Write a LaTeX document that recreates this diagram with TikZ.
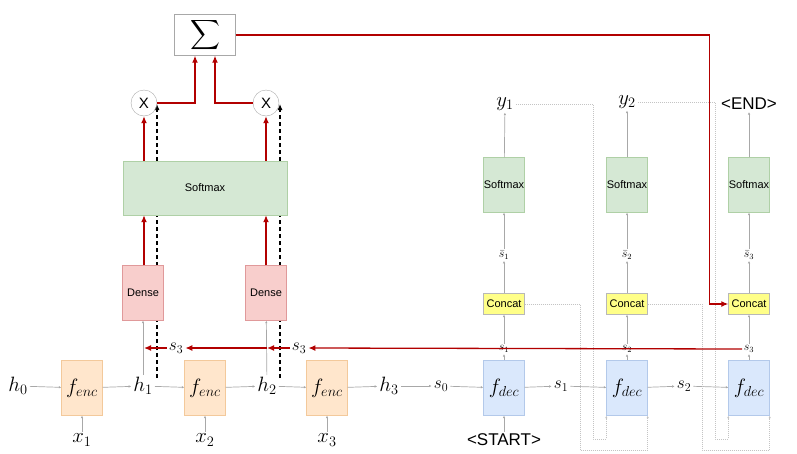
\documentclass[tikz,border=0pt]{standalone}
\usepackage{fontspec}
\setmainfont{Liberation Sans}
\usepackage{amsmath,amssymb}
\usetikzlibrary{calc}
\usetikzlibrary{positioning}
\usetikzlibrary{arrows.meta}

\definecolor{encfill}{HTML}{FFE6CC}
\definecolor{encdraw}{HTML}{F3C99B}
\definecolor{densefill}{HTML}{F8CECC}
\definecolor{densedraw}{HTML}{E0999A}
\definecolor{softfill}{HTML}{D5E8D4}
\definecolor{softdraw}{HTML}{AFD0A6}
\definecolor{decfill}{HTML}{DAE8FC}
\definecolor{decdraw}{HTML}{B3C9EA}
\definecolor{catfill}{HTML}{FFFF88}
\definecolor{catdraw}{HTML}{B8B8B8}
\definecolor{attred}{HTML}{B20000}
\definecolor{linegray}{HTML}{A8A8A8}
\definecolor{dotgray}{HTML}{C4C4C4}

\tikzset{
  box/.style={minimum width=41pt, minimum height=55pt, inner sep=0pt},
  encbox/.style={box, fill=encfill, draw=encdraw, font=\huge},
  decbox/.style={box, fill=decfill, draw=decdraw, font=\huge},
  densebox/.style={box, fill=densefill, draw=densedraw, font=\fontsize{11}{13}\selectfont},
  softbox/.style={box, fill=softfill, draw=softdraw, font=\fontsize{11}{13}\selectfont},
  catbox/.style={minimum width=41pt, minimum height=21pt, inner sep=0pt,
    fill=catfill, draw=catdraw, font=\fontsize{11}{13}\selectfont},
  biglabel/.style={inner sep=2pt, font=\huge},
  slabel/.style={inner sep=2pt, font=\LARGE},
  smalllabel/.style={inner sep=1.5pt, font=\large},
  toklabel/.style={inner sep=2pt, font=\fontsize{17}{20}\selectfont},
  mulnode/.style={circle, draw=linegray, minimum size=26pt, inner sep=0pt,
    font=\fontsize{15}{18}\selectfont},
  thinarrow/.style={draw=linegray, line width=0.7pt,
    -{Latex[length=2.5pt,width=2.5pt]}},
  dotarrow/.style={draw=dotgray, line width=0.6pt, dash pattern=on 1pt off 1pt,
    -{Latex[length=2.5pt,width=2.5pt]}},
  redarrow/.style={draw=attred, line width=1.3pt,
    -{Latex[length=7pt,width=6pt]}},
  dasharrow/.style={draw=black, line width=1.1pt, dash pattern=on 4pt off 3pt,
    -{Latex[length=6pt,width=5pt]}}
}

\begin{document}
\begin{tikzpicture}[x=1pt,y=-1pt]
\useasboundingbox (0,0) rectangle (797,453);

\coordinate (dash1) at (157,378);
\coordinate (dash1end) at (157,104);
\coordinate (dash2) at (280,378);
\coordinate (dash2end) at (280,104);
\draw[dasharrow] (dash1) -- (dash1end);
\draw[dasharrow] (dash2) -- (dash2end);

\node[encbox] (fenc1) at (82,388) {$f_{enc}$};
\node[encbox] (fenc2) at (205,388) {$f_{enc}$};
\node[encbox] (fenc3) at (327,388) {$f_{enc}$};

\node[biglabel] (h0) at (18,386) {$h_0$};
\node[biglabel] (h1) at (143,386) {$h_1$};
\node[biglabel] (h2) at (267,386) {$h_2$};
\node[biglabel] (h3) at (389,386) {$h_3$};
\node[biglabel] (x1) at (82,440) {$x_1$};
\node[biglabel] (x2) at (205,440) {$x_2$};
\node[biglabel] (x3) at (327,440) {$x_3$};

\node[densebox] (dense1) at (143,293) {Dense};
\node[densebox] (dense2) at (266,293) {Dense};
\node[softbox, minimum width=164pt, minimum height=54pt] (softmax) at (205,188) {Softmax};
\node[mulnode] (mul1) at (144,103) {X};
\node[mulnode] (mul2) at (266,103) {X};
\node[draw=linegray, minimum width=61pt, minimum height=41pt, inner sep=0pt,
  font=\huge] (sigma) at (205,35) {$\displaystyle\sum$};

\node[slabel] (s0) at (441,386) {$s_0$};
\node[slabel] (s1) at (561,386) {$s_1$};
\node[slabel] (s2) at (684,386) {$s_2$};
\node[decbox] (fdec1) at (504,388) {$f_{dec}$};
\node[decbox] (fdec2) at (627,388) {$f_{dec}$};
\node[decbox] (fdec3) at (749,388) {$f_{dec}$};
\node[toklabel] (start) at (504,440) {<START>};

\node[smalllabel] (sd1) at (504,349) {$s_1$};
\node[smalllabel] (sd2) at (627,349) {$s_2$};
\node[smalllabel] (sd3) at (749,349) {$s_3$};
\node[catbox] (cat1) at (504,304) {Concat};
\node[catbox] (cat2) at (627,304) {Concat};
\node[catbox] (cat3) at (749,304) {Concat};
\node[smalllabel] (sb1) at (504,255) {$\bar{s}_1$};
\node[smalllabel] (sb2) at (627,255) {$\bar{s}_2$};
\node[smalllabel] (sb3) at (749,255) {$\bar{s}_3$};
\node[softbox] (soft1) at (504,185) {Softmax};
\node[softbox] (soft2) at (627,185) {Softmax};
\node[softbox] (soft3) at (749,185) {Softmax};
\node[biglabel] (y1) at (505,104) {$y_1$};
\node[biglabel] (y2) at (627,102) {$y_2$};
\node[toklabel] (endtok) at (749,104) {<END>};

\draw[thinarrow] (h0) -- (fenc1);
\draw[thinarrow] (fenc1) -- (h1);
\draw[thinarrow] (h1) -- (fenc2);
\draw[thinarrow] (fenc2) -- (h2);
\draw[thinarrow] (h2) -- (fenc3);
\draw[thinarrow] (fenc3) -- (h3);
\draw[thinarrow] (h3) -- (s0);
\draw[thinarrow] (s0) -- (fdec1);
\draw[thinarrow] (fdec1) -- (s1);
\draw[thinarrow] (s1) -- (fdec2);
\draw[thinarrow] (fdec2) -- (s2);
\draw[thinarrow] (s2) -- (fdec3);
\draw[thinarrow] (x1) -- (fenc1);
\draw[thinarrow] (x2) -- (fenc2);
\draw[thinarrow] (x3) -- (fenc3);
\draw[thinarrow] (start) -- (fdec1);
\draw[thinarrow] (h1) -- (dense1);
\draw[thinarrow] (h2) -- (dense2);

\foreach \i in {1,2,3}{
  \draw[thinarrow] (fdec\i) -- (sd\i);
  \draw[thinarrow] (sd\i) -- (cat\i);
  \draw[thinarrow] (cat\i) -- (sb\i);
  \draw[thinarrow] (sb\i) -- (soft\i);
}
\draw[thinarrow] (soft1) -- (y1);
\draw[thinarrow] (soft2) -- (y2);
\draw[thinarrow] (soft3) -- (endtok);

\draw[dotarrow] (y1.east) -| (593,439) -| (fdec2.south west);
\draw[dotarrow] (cat1.east) -| (580,450) -| (fdec2.south east);
\draw[dotarrow] (y2.east) -| (715,439) -| (fdec3.south west);
\draw[dotarrow] (cat2.east) -| (702,450) -| (fdec3.south east);

\draw[redarrow] (mul1.north |- dense1.north) -- (mul1.north |- softmax.south);
\draw[redarrow] (mul2.north |- dense2.north) -- (mul2.north |- softmax.south);
\draw[redarrow] (mul1.north |- softmax.north) -- (mul1.south);
\draw[redarrow] (mul2.north |- softmax.north) -- (mul2.south);
\draw[redarrow] (mul1.east) -| ([xshift=-10pt]sigma.south);
\draw[redarrow] (mul2.west) -| ([xshift=10pt]sigma.south);
\draw[redarrow] (sigma.east) -| ([xshift=-19pt]cat3.west) -- (cat3.west);

\node[slabel] (s3a) at (176,348) {$s_3$};
\node[slabel] (s3b) at (299,348) {$s_3$};
\coordinate (s3mid) at (267,348);
\coordinate (s3end) at (144,348);
\draw[redarrow] (sd3.west) -- (s3b.east);
\draw[redarrow] (s3b.west) -- (s3mid);
\draw[redarrow] (s3mid) -- (s3a.east);
\draw[redarrow] (s3a.west) -- (s3end);
\end{tikzpicture}
\end{document}
